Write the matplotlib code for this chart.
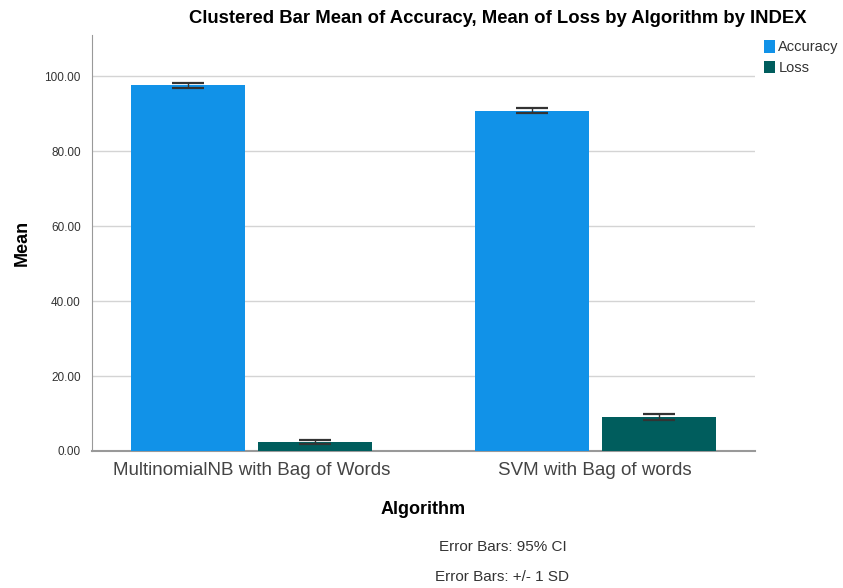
import numpy as np
import matplotlib.pyplot as plt

plt.rcParams['font.family'] = ['Liberation Sans', 'DejaVu Sans']

algorithms = ['MultinomialNB with Bag of Words', 'SVM with Bag of words']
series = ['Accuracy', 'Loss']
accuracy = [97.6, 90.9]
accuracy_err = [0.6, 0.7]
loss = [2.4, 9.1]
loss_err = [0.6, 0.7]
yticks = [0, 20, 40, 60, 80, 100]

acc_color = '#1192E8'
loss_color = '#005D5D'

fig = plt.figure(figsize=(8.43, 5.88), dpi=100)
ax = fig.add_axes([0.109, 0.233, 0.787, 0.707])

x = np.arange(len(algorithms))
w = 0.332
gap = 0.038
err_kw = dict(ecolor='#333333', elinewidth=1.0, capsize=11.5, capthick=1.6)
ax.bar(x - (w + gap) / 2, accuracy, w, color=acc_color, label=series[0],
       yerr=accuracy_err, error_kw=err_kw, zorder=3)
ax.bar(x + (w + gap) / 2, loss, w, color=loss_color, label=series[1],
       yerr=loss_err, error_kw=err_kw, zorder=3)

ax.set_xlim(-0.466, 1.466)
ax.set_ylim(0, 111)
ax.set_yticks(yticks)
ax.set_yticklabels(['%.2f' % v for v in yticks], fontsize=8.5, color='#333333')
ax.set_xticks(x)
ax.set_xticklabels(algorithms, fontsize=13.5, color='#444444')
ax.tick_params(axis='x', length=0, pad=8)
ax.tick_params(axis='y', length=0, pad=8)
ax.grid(axis='y', color='#d4d4d4', linewidth=1.0, zorder=0)
for s in ['top', 'right']:
    ax.spines[s].set_visible(False)
ax.spines['left'].set_color('#999999')
ax.spines['bottom'].set_color('#999999')
ax.spines['bottom'].set_linewidth(1.5)

ax.set_xlabel('Algorithm', fontsize=13, fontweight='bold', labelpad=16)
ax.set_ylabel('Mean', fontsize=13, fontweight='bold', labelpad=10)

fig.text(0.59, 0.968, 'Clustered Bar Mean of Accuracy, Mean of Loss by Algorithm by INDEX',
         ha='center', va='center', fontsize=13.3, fontweight='bold')

leg = fig.legend(loc='upper left', bbox_to_anchor=(0.899, 0.942), frameon=False,
                 fontsize=10.5, handlelength=0.75, handleheight=0.95,
                 handletextpad=0.25, labelspacing=0.45, borderaxespad=0)
for t in leg.get_texts():
    t.set_color('#333333')

fig.text(0.596, 0.07, 'Error Bars: 95% CI', ha='center', va='center',
         fontsize=11, color='#333333')
fig.text(0.596, 0.019, 'Error Bars: +/- 1 SD', ha='center', va='center',
         fontsize=11, color='#333333')

fig.savefig('out.png', dpi=100)
